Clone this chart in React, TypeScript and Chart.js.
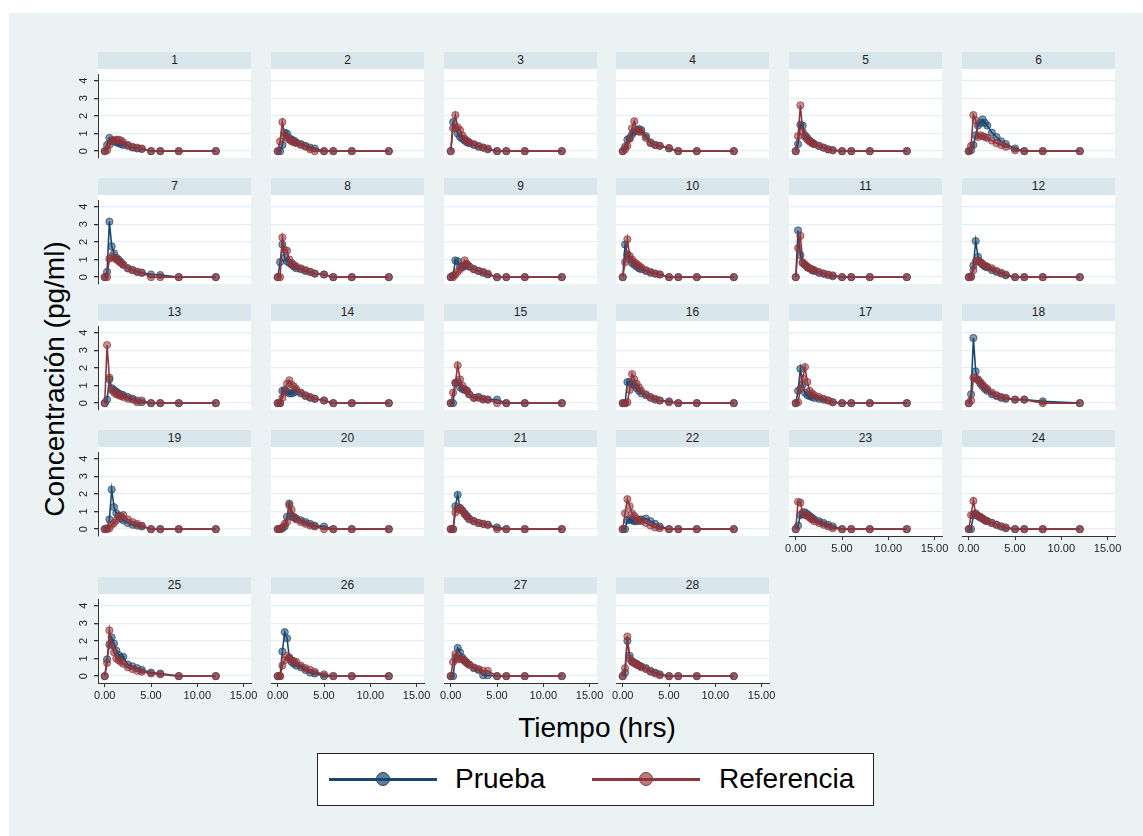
import React, { useEffect, useRef } from 'react';
import { Chart, registerables } from 'chart.js';

Chart.register(...registerables);

const FONT = "'Liberation Sans', Arial, Helvetica, sans-serif";

const TIMES = [0, 0.25, 0.5, 0.75, 1, 1.25, 1.5, 1.75, 2, 2.5, 3, 3.5, 4, 5, 6, 8, 12];
const X_TICKS = [0, 5, 10, 15];
const Y_TICKS = [0, 1, 2, 3, 4];
const SUBJECTS = ['1','2','3','4','5','6','7','8','9','10','11','12','13','14','15','16','17','18','19','20','21','22','23','24','25','26','27','28'];

const PRUEBA = [
  [0, 0.35, 0.75, 0.6, 0.55, 0.5, 0.45, 0.4, 0.35, 0.3, 0.2, 0.15, 0.12, 0, 0, 0, 0],
  [0, 0, 0.35, 1.05, 1.0, 0.75, 0.65, 0.6, 0.5, 0.4, 0.3, 0.2, 0.15, 0, 0, 0, 0],
  [0, 1.65, 1.3, 1.0, 0.8, 0.7, 0.6, 0.5, 0.45, 0.35, 0.25, 0.2, 0.1, 0, 0, 0, 0],
  [0, 0.25, 0.65, 0.75, 0.95, 1.1, 1.2, 1.25, 1.2, 0.85, 0.5, 0.35, 0.3, 0.15, 0, 0, 0],
  [0, 0.4, 1.5, 1.45, 0.9, 0.75, 0.6, 0.5, 0.4, 0.3, 0.2, 0.1, 0.05, 0, 0, 0, 0],
  [0, 0.05, 0.35, 0.9, 1.45, 1.6, 1.8, 1.6, 1.45, 1.05, 0.8, 0.55, 0.4, 0.15, 0, 0, 0],
  [0, 0.3, 3.15, 1.75, 1.35, 1.1, 1.0, 0.85, 0.7, 0.5, 0.4, 0.3, 0.25, 0.15, 0.12, 0, 0],
  [0, 0.85, 1.85, 1.1, 0.9, 0.8, 0.7, 0.6, 0.5, 0.45, 0.35, 0.3, 0.2, 0.15, 0, 0, 0],
  [0, 0.1, 0.95, 0.9, 0.6, 0.55, 0.65, 0.7, 0.6, 0.45, 0.35, 0.25, 0.15, 0, 0, 0, 0],
  [0, 1.85, 1.3, 1.0, 0.8, 0.7, 0.6, 0.5, 0.45, 0.35, 0.25, 0.2, 0.15, 0, 0, 0, 0],
  [0, 2.65, 1.25, 0.8, 0.7, 0.55, 0.5, 0.4, 0.35, 0.25, 0.2, 0.12, 0.05, 0, 0, 0, 0],
  [0, 0.05, 0.65, 2.05, 1.15, 0.85, 0.7, 0.6, 0.55, 0.4, 0.3, 0.2, 0.1, 0, 0, 0, 0],
  [0, 0.2, 1.35, 0.85, 0.75, 0.65, 0.55, 0.5, 0.45, 0.35, 0.25, 0.15, 0.05, 0, 0, 0, 0],
  [0, 0, 0.7, 0.75, 0.65, 0.55, 0.55, 0.6, 0.7, 0.55, 0.4, 0.3, 0.25, 0.15, 0, 0, 0],
  [0, 0, 1.15, 1.2, 0.9, 0.8, 0.75, 0.7, 0.5, 0.3, 0.35, 0.25, 0.2, 0.2, 0, 0, 0],
  [0, 0, 1.2, 1.2, 1.1, 1.0, 0.85, 0.7, 0.55, 0.45, 0.3, 0.2, 0.15, 0.1, 0, 0, 0],
  [0, 0.7, 1.95, 1.05, 0.6, 0.45, 0.4, 0.35, 0.3, 0.25, 0.2, 0.15, 0.05, 0, 0, 0, 0],
  [0, 0.5, 3.7, 1.8, 1.3, 1.1, 0.95, 0.8, 0.7, 0.5, 0.4, 0.3, 0.25, 0.2, 0.2, 0.1, 0],
  [0, 0.05, 0.55, 2.25, 1.25, 0.9, 0.75, 0.6, 0.5, 0.35, 0.25, 0.2, 0.15, 0, 0, 0, 0],
  [0, 0, 0.05, 0.15, 0.7, 1.45, 0.75, 0.65, 0.6, 0.5, 0.4, 0.3, 0.2, 0.15, 0, 0, 0],
  [0, 0, 1.3, 1.95, 1.2, 1.05, 0.9, 0.75, 0.6, 0.45, 0.35, 0.3, 0.25, 0.1, 0, 0, 0],
  [0, 0, 0.5, 0.55, 0.5, 0.45, 0.45, 0.5, 0.55, 0.6, 0.45, 0.3, 0.15, 0, 0, 0, 0],
  [0, 0.2, 0.8, 0.85, 0.95, 0.85, 0.75, 0.65, 0.55, 0.45, 0.35, 0.25, 0.15, 0, 0, 0, 0],
  [0, 0, 0.8, 0.85, 0.75, 0.65, 0.6, 0.5, 0.45, 0.35, 0.25, 0.15, 0.05, 0, 0, 0, 0],
  [0, 0.95, 1.8, 2.2, 1.85, 1.45, 1.2, 1.05, 1.1, 0.65, 0.55, 0.45, 0.35, 0.2, 0.15, 0, 0],
  [0, 0, 1.4, 2.5, 2.15, 1.05, 0.8, 0.7, 0.6, 0.5, 0.35, 0.2, 0.15, 0, 0, 0, 0],
  [0, 0, 1.05, 1.6, 1.35, 1.05, 0.9, 0.75, 0.65, 0.45, 0.35, 0.05, 0.05, 0, 0, 0, 0],
  [0, 0.2, 2.0, 1.15, 0.85, 0.75, 0.7, 0.6, 0.55, 0.45, 0.3, 0.2, 0.1, 0, 0, 0, 0],
];

const REFERENCIA = [
  [0, 0.05, 0.35, 0.6, 0.62, 0.65, 0.65, 0.6, 0.5, 0.35, 0.25, 0.2, 0.15, 0, 0, 0, 0],
  [0, 0.55, 1.65, 0.9, 0.75, 0.65, 0.55, 0.5, 0.45, 0.35, 0.25, 0.1, 0, 0, 0, 0, 0],
  [0, 1.3, 2.05, 1.35, 1.2, 0.9, 0.7, 0.6, 0.5, 0.4, 0.3, 0.2, 0.15, 0, 0, 0, 0],
  [0, 0.1, 0.3, 0.7, 1.3, 1.7, 1.2, 1.1, 1.1, 0.75, 0.45, 0.35, 0.3, 0.18, 0, 0, 0],
  [0, 0.85, 2.6, 1.1, 0.8, 0.65, 0.55, 0.45, 0.4, 0.3, 0.2, 0.1, 0.05, 0, 0, 0, 0],
  [0, 0.3, 2.05, 1.75, 0.8, 0.9, 0.85, 0.8, 0.75, 0.6, 0.45, 0.35, 0.25, 0.05, 0, 0, 0],
  [0, 0, 1.05, 1.15, 1.1, 1.0, 0.9, 0.8, 0.7, 0.5, 0.4, 0.3, 0.25, 0, 0, 0, 0],
  [0, 0, 2.25, 1.55, 1.5, 1.0, 0.8, 0.7, 0.6, 0.5, 0.4, 0.3, 0.2, 0.15, 0, 0, 0],
  [0, 0, 0.15, 0.3, 0.45, 0.65, 0.95, 0.75, 0.6, 0.45, 0.35, 0.3, 0.2, 0, 0, 0, 0],
  [0, 0.85, 2.15, 1.2, 1.0, 0.85, 0.75, 0.65, 0.55, 0.4, 0.3, 0.2, 0.15, 0, 0, 0, 0],
  [0, 1.65, 2.35, 0.85, 0.7, 0.6, 0.5, 0.45, 0.4, 0.3, 0.2, 0.15, 0.1, 0, 0, 0, 0],
  [0, 0, 0.4, 0.9, 0.95, 0.85, 0.75, 0.65, 0.6, 0.5, 0.35, 0.25, 0.15, 0, 0, 0, 0],
  [0, 3.3, 1.45, 0.75, 0.6, 0.5, 0.45, 0.4, 0.35, 0.25, 0.2, 0.05, 0.15, 0, 0, 0, 0],
  [0, 0, 0.3, 0.65, 1.1, 1.3, 1.05, 0.95, 0.8, 0.6, 0.45, 0.35, 0.25, 0.15, 0, 0, 0],
  [0, 0.6, 1.15, 2.15, 1.35, 1.0, 0.8, 0.7, 0.5, 0.3, 0.3, 0.2, 0.2, 0, 0, 0, 0],
  [0, 0, 0.05, 0.75, 1.65, 1.35, 1.1, 0.9, 0.7, 0.5, 0.35, 0.25, 0.15, 0.05, 0, 0, 0],
  [0, 0.05, 0.8, 1.4, 2.05, 1.2, 0.7, 0.55, 0.45, 0.35, 0.25, 0.15, 0.05, 0, 0, 0, 0],
  [0, 0.15, 1.45, 1.4, 1.35, 1.2, 1.05, 0.9, 0.8, 0.6, 0.45, 0.35, 0.3, 0.2, 0.2, 0, 0],
  [0, 0, 0.05, 0.25, 0.35, 0.5, 0.7, 0.75, 0.8, 0.55, 0.4, 0.3, 0.2, 0, 0, 0, 0],
  [0, 0, 0.1, 0.3, 0.4, 1.35, 1.1, 0.7, 0.55, 0.4, 0.3, 0.2, 0.15, 0, 0, 0, 0],
  [0, 0, 0.95, 1.15, 1.2, 1.05, 0.85, 0.7, 0.55, 0.45, 0.35, 0.3, 0.25, 0, 0, 0, 0],
  [0, 0.9, 1.7, 1.3, 0.9, 0.75, 0.6, 0.5, 0.45, 0.35, 0.2, 0.1, 0.05, 0, 0, 0, 0],
  [0, 1.55, 1.5, 0.95, 0.8, 0.75, 0.65, 0.55, 0.45, 0.35, 0.25, 0.15, 0.05, 0, 0, 0, 0],
  [0, 0.8, 1.6, 0.9, 0.75, 0.7, 0.6, 0.5, 0.45, 0.35, 0.25, 0.15, 0.1, 0, 0, 0, 0],
  [0, 0.75, 2.6, 1.75, 1.35, 1.0, 0.9, 0.8, 0.7, 0.5, 0.4, 0.3, 0.25, 0.15, 0.1, 0, 0],
  [0, 0, 0.6, 0.9, 1.15, 1.0, 0.9, 0.85, 0.8, 0.6, 0.45, 0.35, 0.25, 0.1, 0, 0, 0],
  [0, 0.8, 1.25, 0.95, 1.0, 0.95, 0.85, 0.75, 0.65, 0.5, 0.4, 0.3, 0.3, 0, 0, 0, 0],
  [0, 0.45, 2.25, 1.0, 0.8, 0.75, 0.65, 0.6, 0.5, 0.4, 0.25, 0.15, 0.05, 0, 0, 0, 0],
];

const X_MIN = -0.73;
const X_MAX = 15.8;
const Y_MIN = -0.39;
const Y_MAX = 4.38;

const BLUE = '#1a476f';
const RED = '#90353b';
const BLUE_FILL = 'rgba(26,71,111,0.55)';
const RED_FILL = 'rgba(144,53,59,0.55)';
const AXIS = '#333333';
const GRID = '#e6eef1';
const TXT = '#222222';
const BG = '#eaf2f3';
const STRIP = '#d9e6ec';

const COL_LEFT = [98, 271, 444, 616, 789, 962];
const ROW_TOP = [52, 178, 304, 430, 577];
const PANEL_W = 153;
const STRIP_H = 17;
const PLOT_H = 89;
const Y_AXIS_W = 20;
const X_AXIS_H = 22;
const RIGHT_PAD = 14;

function Panel({ idx }: { idx: number }) {
  const ref = useRef<HTMLCanvasElement | null>(null);
  const row = Math.floor(idx / 6);
  const col = idx % 6;
  const bottom = row === 4 || (row === 3 && col >= 4);
  const first = col === 0;
  const L = COL_LEFT[col];
  const T = ROW_TOP[row];

  useEffect(() => {
    if (!ref.current) return;
    const mk = (vals: number[]) => TIMES.map((t, k) => ({ x: t, y: vals[k] }));
    const chart = new Chart(ref.current, {
      type: 'line',
      data: {
        datasets: [
          {
            label: 'Prueba',
            data: mk(PRUEBA[idx]),
            order: 1,
            borderColor: BLUE,
            borderWidth: 1.6,
            pointRadius: 3.6,
            pointBorderWidth: 1,
            pointBackgroundColor: BLUE_FILL,
            pointBorderColor: 'rgba(26,71,111,0.7)',
            tension: 0,
          },
          {
            label: 'Referencia',
            data: mk(REFERENCIA[idx]),
            order: 0,
            borderColor: RED,
            borderWidth: 1.6,
            pointRadius: 3.6,
            pointBorderWidth: 1,
            pointBackgroundColor: RED_FILL,
            pointBorderColor: 'rgba(144,53,59,0.7)',
            tension: 0,
          },
        ],
      },
      options: {
        animation: false,
        responsive: false,
        maintainAspectRatio: false,
        events: [],
        layout: { padding: { left: 0, right: RIGHT_PAD, top: 0, bottom: 0 } },
        plugins: {
          legend: { display: false },
          tooltip: { enabled: false },
          title: { display: false },
        },
        scales: {
          x: {
            type: 'linear',
            min: X_MIN,
            max: X_MAX,
            afterBuildTicks: (s: any) => {
              s.ticks = X_TICKS.map((v) => ({ value: v }));
            },
            afterFit: (s: any) => {
              s.height = X_AXIS_H;
              s.paddingLeft = 0;
              s.paddingRight = 0;
            },
            grid: {
              display: bottom,
              drawOnChartArea: false,
              drawTicks: true,
              tickLength: 4,
              tickColor: AXIS,
              color: AXIS,
            },
            border: { display: bottom, color: AXIS, width: 1 },
            ticks: {
              display: bottom,
              padding: 2,
              color: TXT,
              autoSkip: false,
              maxRotation: 0,
              minRotation: 0,
              font: { size: 11, family: FONT },
              callback: (v: any) => Number(v).toFixed(2),
            },
          },
          y: {
            type: 'linear',
            min: Y_MIN,
            max: Y_MAX,
            afterBuildTicks: (s: any) => {
              s.ticks = Y_TICKS.map((v) => ({ value: v }));
            },
            afterFit: (s: any) => {
              s.width = Y_AXIS_W;
              s.paddingTop = 0;
              s.paddingBottom = 0;
            },
            grid: {
              color: GRID,
              lineWidth: 1.3,
              drawTicks: first,
              tickLength: 4,
              tickColor: AXIS,
            },
            border: { display: first, color: AXIS, width: 1 },
            ticks: {
              display: first,
              padding: 7,
              crossAlign: 'center',
              minRotation: 90,
              maxRotation: 90,
              color: TXT,
              font: { size: 11, family: FONT },
              callback: (v: any) => String(v),
            },
          },
        },
      },
    } as any);
    return () => chart.destroy();
  }, [idx]);

  return (
    <>
      <div
        style={{
          position: 'absolute',
          left: L,
          top: T,
          width: PANEL_W,
          height: STRIP_H,
          background: STRIP,
          color: TXT,
          fontFamily: FONT,
          fontSize: 12,
          lineHeight: STRIP_H + 'px',
          textAlign: 'center',
        }}
      >
        {SUBJECTS[idx]}
      </div>
      <div
        style={{
          position: 'absolute',
          left: L,
          top: T + STRIP_H,
          width: PANEL_W,
          height: PLOT_H,
          background: '#ffffff',
        }}
      />
      <canvas
        ref={ref}
        width={Y_AXIS_W + PANEL_W + RIGHT_PAD}
        height={PLOT_H + X_AXIS_H}
        style={{
          position: 'absolute',
          left: L - Y_AXIS_W,
          top: T + STRIP_H,
          width: Y_AXIS_W + PANEL_W + RIGHT_PAD,
          height: PLOT_H + X_AXIS_H,
        }}
      />
    </>
  );
}

function LegendItem({ x, color, fill, label, textX }: any) {
  return (
    <>
      <div style={{ position: 'absolute', left: x, top: 777.5, width: 108, height: 3, background: color }} />
      <div
        style={{
          position: 'absolute',
          left: x + 54 - 7,
          top: 779 - 7,
          width: 14,
          height: 14,
          boxSizing: 'border-box',
          borderRadius: '50%',
          background: fill,
          border: '1.5px solid ' + color,
        }}
      />
      <div
        style={{
          position: 'absolute',
          left: textX,
          top: 779 - 17,
          height: 34,
          lineHeight: '34px',
          fontFamily: FONT,
          fontSize: 28,
          color: '#000',
          whiteSpace: 'nowrap',
        }}
      >
        {label}
      </div>
    </>
  );
}

export default function App() {
  return (
    <div style={{ position: 'absolute', left: 0, top: 0, width: 1143, height: 836, background: '#fff', overflow: 'hidden' }}>
      <div style={{ position: 'absolute', left: 9, top: 13, right: 0, bottom: 0, background: BG }} />
      {SUBJECTS.map((_, i) => (
        <Panel key={i} idx={i} />
      ))}
      <div
        style={{
          position: 'absolute',
          left: 55 - 200,
          top: 379 - 17,
          width: 400,
          height: 34,
          lineHeight: '34px',
          textAlign: 'center',
          transform: 'rotate(-90deg)',
          fontFamily: FONT,
          fontSize: 28,
          color: '#000',
          whiteSpace: 'nowrap',
        }}
      >
        Concentración (pg/ml)
      </div>
      <div
        style={{
          position: 'absolute',
          left: 597 - 200,
          top: 728 - 17,
          width: 400,
          height: 34,
          lineHeight: '34px',
          textAlign: 'center',
          fontFamily: FONT,
          fontSize: 28,
          color: '#000',
          whiteSpace: 'nowrap',
        }}
      >
        Tiempo (hrs)
      </div>
      <div
        style={{
          position: 'absolute',
          left: 317,
          top: 753,
          width: 557,
          height: 53,
          boxSizing: 'border-box',
          border: '1.5px solid #222',
          background: '#fff',
        }}
      />
      <LegendItem x={329} color={BLUE} fill="rgba(26,71,111,0.7)" label="Prueba" textX={455} />
      <LegendItem x={592} color={RED} fill="rgba(144,53,59,0.65)" label="Referencia" textX={719} />
    </div>
  );
}
